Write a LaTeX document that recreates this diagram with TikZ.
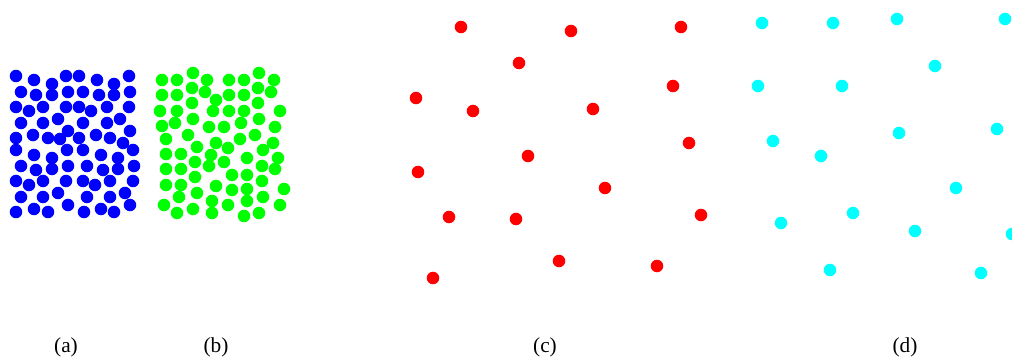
\documentclass[tikz,border=0pt]{standalone}
\usepackage{fontspec}
\setmainfont{Liberation Serif}
\usepackage{tikz}
\usetikzlibrary{positioning}
\usepackage{xcolor}
\definecolor{dotblue}{RGB}{0,0,255}
\definecolor{dotgreen}{RGB}{0,255,0}
\definecolor{dotred}{RGB}{255,0,0}
\definecolor{dotcyan}{RGB}{0,255,255}

\begin{document}
\begin{tikzpicture}[
    x=0.75pt, y=-0.75pt,
    dot/.style={radius=4.7pt},
    lbl/.style={font=\fontsize{16}{18}\selectfont, anchor=center}
]
\useasboundingbox (0,0) rectangle (1012,360);

\foreach \p in {(16,76),(34,80),(52,84),(66,76),(79,76),(97,80),(114,84),(129,76),
    (21,92),(36,95),(52,95),(68,92),(83,92),(99,95),(114,95),(130,92),
    (16,107),(29,111),(43,107),(66,107),(79,107),(91,111),(107,107),(129,107),
    (21,123),(43,123),(58,119),(83,123),(107,123),(120,119),(130,131),
    (16,138),(33,135),(48,138),(60,139),(68,131),(79,138),(96,135),(110,138),(123,143),
    (16,150),(34,155),(52,158),(67,150),(83,150),(101,155),(118,158),(133,150),
    (21,166),(36,170),(52,169),(68,166),(87,166),(103,170),(118,169),(134,166),
    (16,181),(29,185),(43,181),(66,181),(83,181),(95,185),(110,181),(133,181),
    (21,197),(43,197),(58,193),(87,197),(110,197),(125,193),
    (16,212),(34,209),(48,212),(68,205),(84,212),(101,209),(114,212),(130,205)}
    \fill[dotblue] \p circle[dot];

\foreach \p in {(162,80),(177,80),(193,73),(207,80),(229,80),(244,80),(259,73),(274,80),
    (162,95),(177,95),(192,88),(205,92),(216,100),(229,95),(244,95),(258,88),(271,92),
    (160,111),(177,111),(192,103),(213,111),(229,111),(244,111),(258,103),(280,111),
    (162,126),(175,123),(193,119),(209,127),(224,127),(241,123),(259,119),(275,127),
    (166,139),(188,135),(216,143),(240,139),(255,135),(273,143),
    (166,154),(181,154),(197,147),(211,155),(228,148),(247,158),(263,150),(278,158),
    (166,169),(181,169),(195,162),(209,166),(224,162),(232,175),(247,175),(262,166),(275,169),
    (166,185),(181,185),(195,177),(216,186),(232,190),(247,189),(262,181),(284,189),
    (179,197),(197,193),(212,201),(247,201),(263,197),
    (164,205),(177,213),(193,209),(212,213),(228,205),(244,216),(259,213),(280,205)}
    \fill[dotgreen] \p circle[dot];

\foreach \p in {(461,27),(571,31),(681,27),(519,63),(673,86),(416,98),(473,111),(593,109),
    (689,143),(528,156),(418,172),(605,188),(449,217),(516,219),(701,215),(559,261),
    (657,266),(433,278)}
    \fill[dotred] \p circle[dot];

\foreach \p in {(762,23),(833,23),(897,19),(1005,19),(935,66),(758,86),(842,86),(773,141),
    (899,133),(997,129),(821,156),(956,188),(853,213),(781,223),(915,231),(1012,234),
    (830,270),(981,273)}
    \fill[dotcyan] \p circle[dot];

\node[lbl] (la) at (66,347) {(a)};
\node[lbl] (lb) at (216,347) {(b)};
\node[lbl] (lc) at (545,347) {(c)};
\node[lbl] (ld) at (905,347) {(d)};
\end{tikzpicture}
\end{document}
